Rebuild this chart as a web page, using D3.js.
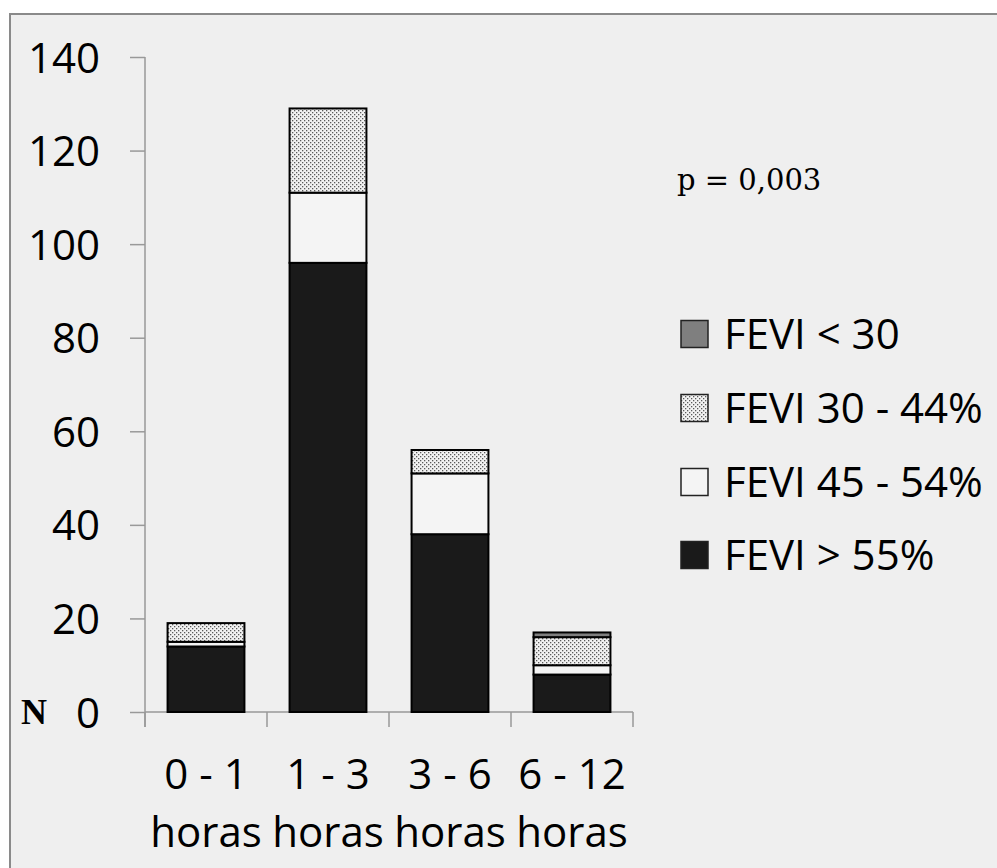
<!DOCTYPE html>
<html>
<head>
<meta charset="utf-8">
<script src="https://cdn.jsdelivr.net/npm/d3@7"></script>
<style>
  body { margin: 0; background: #fff; }
  svg text { font-family: "Open Sans", sans-serif; fill: #000; }
</style>
</head>
<body>
<svg class="chart"></svg>
<script>
var categories = ['0 - 1', '1 - 3', '3 - 6', '6 - 12'];
var categoryUnit = 'horas';
var seriesNames = ['FEVI > 55%', 'FEVI 45 - 54%', 'FEVI 30 - 44%', 'FEVI < 30'];
var fevi55 = [14, 96, 38, 8];
var fevi45 = [1, 15, 13, 2];
var fevi30 = [4, 18, 5, 6];
var fevi0 = [0, 0, 0, 1];
var yTicks = [0, 20, 40, 60, 80, 100, 120, 140];
var pText = 'p = 0,003';

function show() {
    'use strict';

    var width = 997, height = 868;
    var svg = d3.select('.chart')
        .attr('width', width)
        .attr('height', height);

    // dotted fill used by the 30-44% series
    var defs = svg.append('defs');
    var pat = defs.append('pattern')
        .attr('id', 'dots')
        .attr('patternUnits', 'userSpaceOnUse')
        .attr('width', 4).attr('height', 4);
    pat.append('rect').attr('width', 4).attr('height', 4).attr('fill', '#f2f2f2');
    pat.append('rect').attr('x', 0).attr('y', 0).attr('width', 1.3).attr('height', 1.3).attr('fill', '#5a5a5a');
    pat.append('rect').attr('x', 2).attr('y', 2).attr('width', 1.3).attr('height', 1.3).attr('fill', '#5a5a5a');

    var fills = ['#1a1a1a', '#f4f4f4', 'url(#dots)', '#7f7f7f'];

    // chart area frame
    svg.append('rect')
        .attr('x', 10).attr('y', 14)
        .attr('width', 1000).attr('height', 900)
        .attr('fill', '#efefef')
        .attr('stroke', '#8a8a8a')
        .attr('stroke-width', 2);

    var x = d3.scaleBand()
        .domain(categories)
        .range([145, 633])
        .paddingInner(0.37)
        .paddingOuter(0.185);

    var y = d3.scaleLinear()
        .domain([0, 140])
        .range([712, 57]);

    var rows = categories.map(function (c, i) {
        return { cat: c, s0: fevi55[i], s1: fevi45[i], s2: fevi30[i], s3: fevi0[i] };
    });
    var stack = d3.stack().keys(['s0', 's1', 's2', 's3'])(rows);

    // axes
    var yAxis = d3.axisLeft(y).tickValues(yTicks).tickSize(15).tickPadding(30);
    var gy = svg.append('g')
        .attr('transform', 'translate(145,0)')
        .call(yAxis);
    gy.select('.domain').remove();
    gy.selectAll('.tick line').attr('stroke', '#999').attr('stroke-width', 1.5);
    gy.selectAll('.tick text')
        .attr('font-size', 42)
        .attr('font-family', '"Open Sans", sans-serif')
        .attr('dy', '0.36em');

    svg.append('line')
        .attr('x1', 145).attr('x2', 145)
        .attr('y1', y(140)).attr('y2', y(0) + 15)
        .attr('stroke', '#999').attr('stroke-width', 1.5);

    svg.append('line')
        .attr('x1', 145).attr('x2', 633)
        .attr('y1', y(0)).attr('y2', y(0))
        .attr('stroke', '#999').attr('stroke-width', 1.5);

    var bounds = categories.map(function (c) { return x(c) - x.step() * x.paddingInner() / 2; });
    bounds.push(633);
    svg.selectAll('.xtick').data(bounds).enter()
        .append('line')
        .attr('class', 'xtick')
        .attr('x1', function (d) { return d; })
        .attr('x2', function (d) { return d; })
        .attr('y1', y(0)).attr('y2', y(0) + 15)
        .attr('stroke', '#999').attr('stroke-width', 1.5);

    var xl = svg.selectAll('.xlab').data(categories).enter()
        .append('text')
        .attr('class', 'xlab')
        .attr('text-anchor', 'middle')
        .attr('font-size', 42);
    xl.append('tspan')
        .attr('x', function (d) { return x(d) + x.bandwidth() / 2; })
        .attr('y', 789)
        .text(function (d) { return d; });
    xl.append('tspan')
        .attr('x', function (d) { return x(d) + x.bandwidth() / 2; })
        .attr('y', 847)
        .text(categoryUnit);

    // stacked bars
    var layers = svg.selectAll('.layer').data(stack).enter()
        .append('g')
        .attr('class', 'layer')
        .attr('fill', function (d, i) { return fills[i]; });

    layers.selectAll('rect')
        .data(function (d) { return d.filter(function (p) { return p[1] > p[0]; }); })
        .enter()
        .append('rect')
        .attr('x', function (d) { return x(d.data.cat); })
        .attr('y', function (d) { return y(d[1]); })
        .attr('width', x.bandwidth())
        .attr('height', function (d) { return y(d[0]) - y(d[1]); })
        .attr('stroke', '#000')
        .attr('stroke-width', 2);

    // legend
    var legendY = [334, 408, 482, 555];
    var legendOrder = [3, 2, 1, 0];
    var lg = svg.selectAll('.legend').data(legendOrder).enter()
        .append('g')
        .attr('class', 'legend')
        .attr('transform', function (d, i) { return 'translate(681,' + legendY[i] + ')'; });
    lg.append('rect')
        .attr('x', 0).attr('y', -13.5)
        .attr('width', 27).attr('height', 27)
        .attr('fill', function (d) { return fills[d]; })
        .attr('stroke', '#222')
        .attr('stroke-width', 1.5);
    lg.append('text')
        .attr('x', 43)
        .attr('dy', '0.36em')
        .attr('font-size', 42)
        .text(function (d) { return seriesNames[d]; });

    svg.append('text')
        .attr('x', 677).attr('y', 190)
        .style('font-family', '"DejaVu Serif", serif')
        .style('font-size', '29px')
        .text(pText);

    svg.append('text')
        .attr('x', 21).attr('y', 724)
        .style('font-family', '"Liberation Serif", serif')
        .style('font-weight', 'bold')
        .style('font-size', '36px')
        .text('N');
}

show();
</script>
</body>
</html>
